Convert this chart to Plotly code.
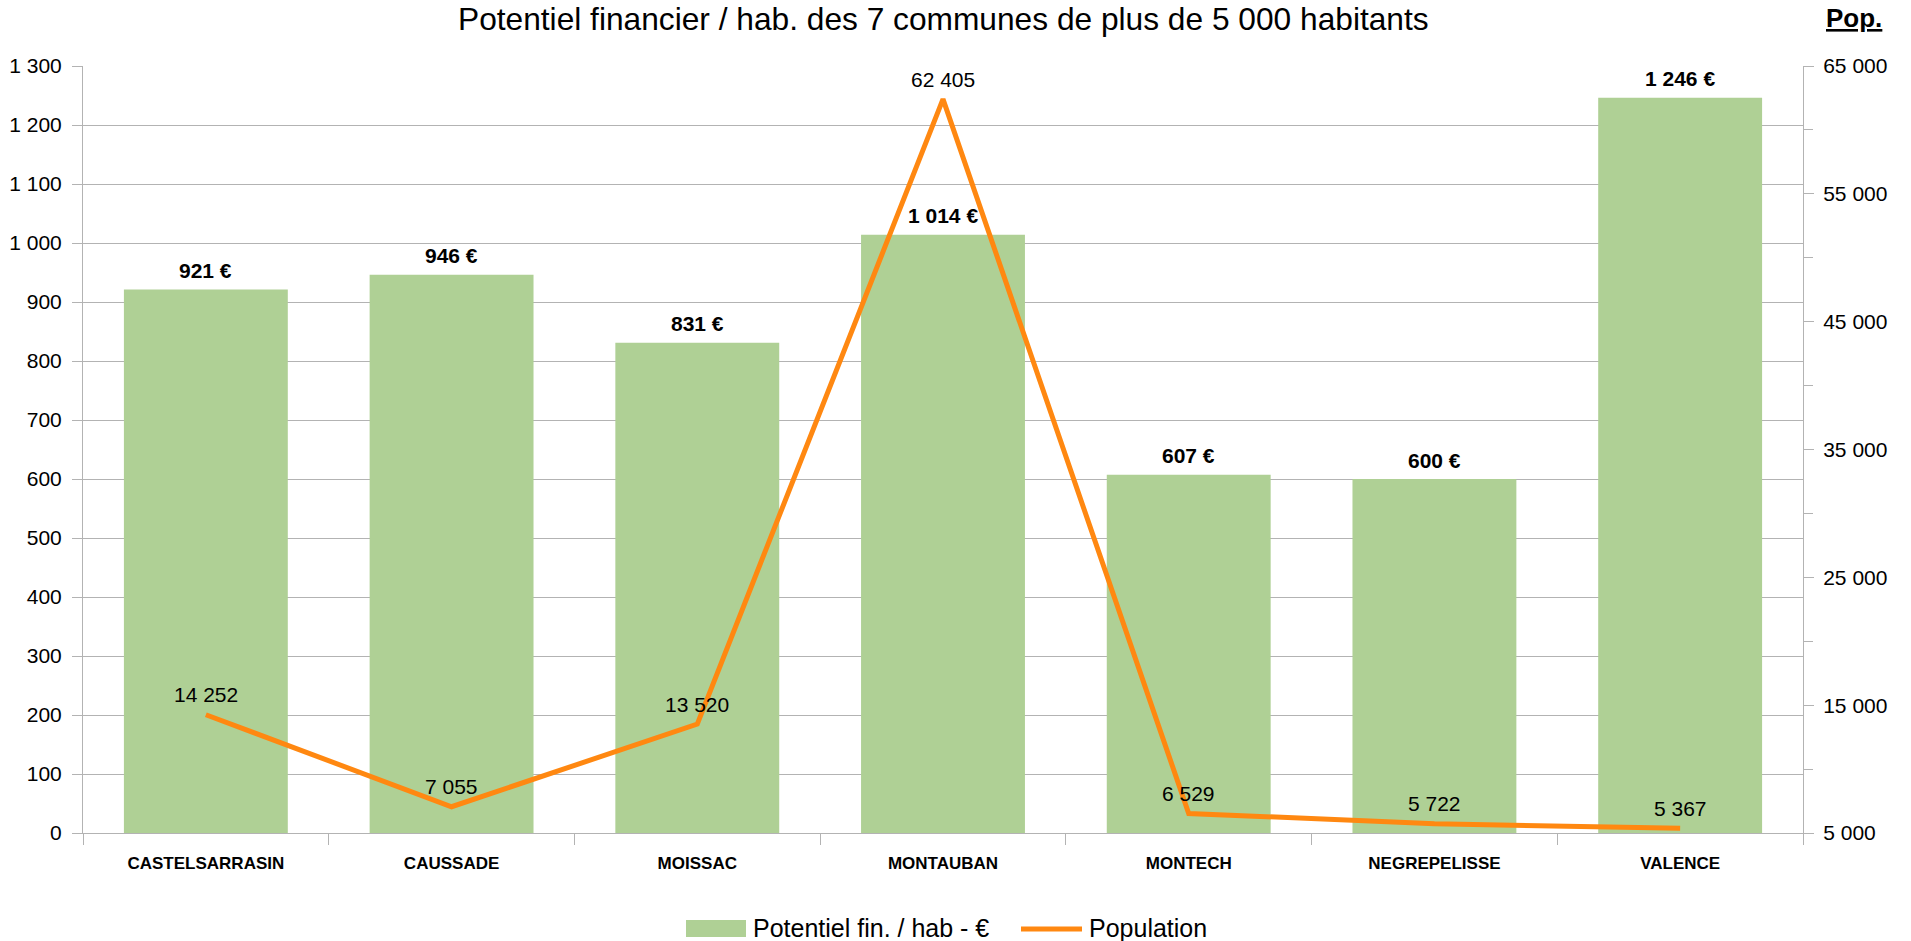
import plotly.graph_objects as go

communes = ["CASTELSARRASIN", "CAUSSADE", "MOISSAC", "MONTAUBAN", "MONTECH", "NEGREPELISSE", "VALENCE"]
potentiel = [921, 946, 831, 1014, 607, 600, 1246]
population = [14252, 7055, 13520, 62405, 6529, 5722, 5367]

title_text = "Potentiel financier / hab. des 7 communes de plus de 5 000 habitants"
bar_name = "Potentiel fin. / hab - €"
line_name = "Population"

GREEN = "#afd095"
ORANGE = "#ff8811"
GRID = "#b3b3b3"
FONT = "Liberation Sans"

W, H = 1911, 941
L, R, T, B = 83, 108, 66, 108
pw, ph = W - L - R, H - T - B


def px(x):
    return (x - L) / pw


def py(y):
    return (H - B - y) / ph


def fmt(v):
    return f"{v:,d}".replace(",", " ")


fig = go.Figure()
fig.add_trace(go.Bar(
    x=communes, y=potentiel, name=bar_name, marker=dict(color=GREEN, line=dict(width=0)),
    showlegend=False, hovertemplate="%{x}: %{y} €<extra></extra>",
))
fig.add_trace(go.Scatter(
    x=communes, y=population, name=line_name, yaxis="y2", mode="lines",
    line=dict(color=ORANGE, width=5), cliponaxis=False, showlegend=False,
))

fig.update_layout(
    width=W, height=H, margin=dict(l=L, r=R, t=T, b=B, autoexpand=False),
    paper_bgcolor="white", plot_bgcolor="white", separators=", ",
    font=dict(family=FONT, size=21, color="black"),
    bargap=0.333,
    xaxis=dict(showline=True, linecolor=GRID, linewidth=1, ticks="outside", tickson="boundaries",
               ticklen=11, tickcolor=GRID, showgrid=False,
               tickfont=dict(family=FONT, size=17, color="black"), ticklabelstandoff=15,
               tickprefix="<b>", ticksuffix="</b>"),
    yaxis=dict(range=[0, 1300], dtick=100, tickformat=",d", showline=True, linecolor=GRID,
               ticks="outside", ticklen=10, tickcolor=GRID, gridcolor=GRID, gridwidth=1,
               zeroline=False, tickfont=dict(size=21), ticklabelstandoff=6),
    yaxis2=dict(range=[5000, 65000], tick0=5000, dtick=10000, tickformat=",d", overlaying="y",
                side="right", showline=True, linecolor=GRID, ticks="outside", ticklen=10,
                tickcolor=GRID, showgrid=False, zeroline=False, tickfont=dict(size=21),
                ticklabelstandoff=5,
                minor=dict(dtick=5000, tick0=5000, ticks="outside", ticklen=9, tickcolor=GRID)),
)

annotations = [
    dict(text=title_text, x=px(944), y=py(0), xref="paper", yref="paper", showarrow=False,
         xanchor="center", yanchor="top", borderpad=0,
         font=dict(family=FONT, size=31.7, color="black")),
    dict(text="<b><u>Pop.</u></b>", x=px(1854), y=py(18), xref="paper", yref="paper",
         showarrow=False, xanchor="center", yanchor="middle",
         font=dict(family=FONT, size=26, color="black")),
    dict(text=bar_name, x=px(752), y=py(927.5), xref="paper", yref="paper", showarrow=False,
         xanchor="left", yanchor="middle", borderpad=0,
         font=dict(family=FONT, size=25, color="black")),
    dict(text=line_name, x=px(1088), y=py(927.5), xref="paper", yref="paper", showarrow=False,
         xanchor="left", yanchor="middle", borderpad=0,
         font=dict(family=FONT, size=25, color="black")),
]
for c, v in zip(communes, potentiel):
    annotations.append(dict(text=f"<b>{fmt(v)} €</b>", x=c, y=v, xref="x", yref="y",
                            showarrow=False, xanchor="center", yanchor="middle", yshift=19,
                            font=dict(family=FONT, size=21, color="black")))
for c, v in zip(communes, population):
    annotations.append(dict(text=fmt(v), x=c, y=v, xref="x", yref="y2",
                            showarrow=False, xanchor="center", yanchor="middle", yshift=20,
                            font=dict(family=FONT, size=21, color="black")))
fig.update_layout(annotations=annotations)

fig.add_shape(type="rect", xref="paper", yref="paper", x0=px(686), x1=px(746),
              y0=py(937), y1=py(920), fillcolor=GREEN, line=dict(width=0))
fig.add_shape(type="line", xref="paper", yref="paper", x0=px(1021), x1=px(1082),
              y0=py(929), y1=py(929), line=dict(color=ORANGE, width=5))

fig.write_html("out.html", config={"displayModeBar": False},
               post_script="document.body.style.margin='0';document.body.style.overflow='hidden';")
